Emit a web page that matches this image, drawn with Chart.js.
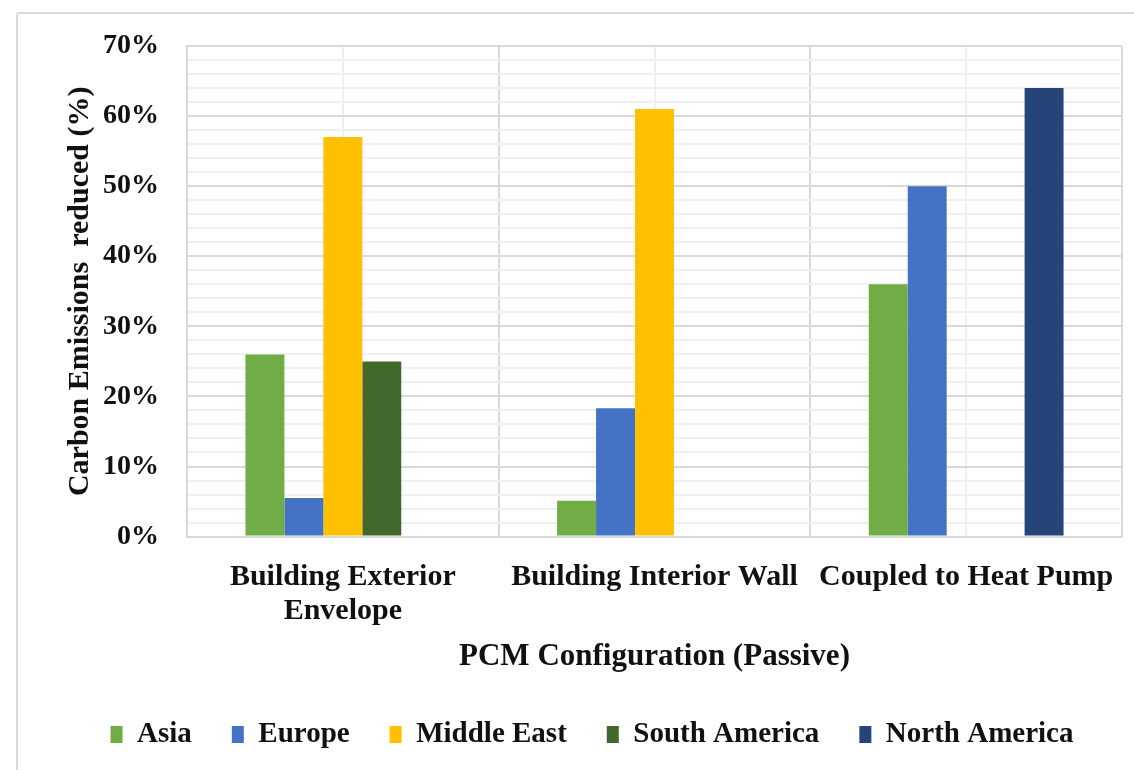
<!DOCTYPE html>
<html>
<head>
<meta charset="utf-8">
<script src="https://cdn.jsdelivr.net/npm/chart.js@4.4.0/dist/chart.umd.min.js"></script>
<style>
  body { margin: 0; background: #fff; }
  #wrap { position: relative; width: 1134px; height: 770px; overflow: hidden; }
  #frame { position: absolute; left: 16px; top: 12px; width: 1200px; height: 800px;
           border: 2px solid #d9d9d9; border-radius: 3px; box-sizing: border-box; }
  #chart { position: absolute; left: 0; top: 0; }
</style>
</head>
<body>
<div id="wrap">
  <div id="frame"></div>
  <canvas id="chart" width="1134" height="770"></canvas>
</div>
<script>
// PCM configurations on the x axis
const categories = [["Building Exterior", "Envelope"], "Building Interior Wall", "Coupled to Heat Pump"];

// carbon emissions reduced, in percent, per region
const asia = [26, 5.1, 36];
const europe = [5.5, 18.3, 50];
const middleEast = [57, 61, null];
const southAmerica = [25, null, null];
const northAmerica = [null, null, 64];

const regionNames = ["Asia", "Europe", "Middle East", "South America", "North America"];
const regionColors = ["#70ad47", "#4472c4", "#ffc000", "#43682b", "#264478"];

const yMin = 0, yMax = 70, yMinorStep = 2, yMajorStep = 10;

const majorGrid = "#d9d9d9";
const minorGrid = "#f0f0f0";

Chart.defaults.font.family = "'Liberation Serif', 'Times New Roman', serif";
Chart.defaults.font.weight = "bold";
Chart.defaults.color = "#111";

const seriesValues = [asia, europe, middleEast, southAmerica, northAmerica];
const datasets = seriesValues.map((vals, i) => ({
  label: regionNames[i],
  data: vals,
  backgroundColor: regionColors[i],
  borderWidth: 0,
  categoryPercentage: 0.625,
  barPercentage: 1,
}));

new Chart(document.getElementById("chart"), {
  type: "bar",
  data: { labels: categories, datasets: datasets },
  options: {
    responsive: false,
    animation: false,
    layout: { padding: { left: 62, right: 12, top: 46, bottom: 11 } },
    plugins: {
      tooltip: { enabled: false },
      legend: {
        position: "bottom",
        labels: {
          boxWidth: 12,
          boxHeight: 17,
          padding: 40,
          color: "#111",
          font: { size: 29, weight: "bold" },
        },
      },
    },
    scales: {
      x: {
        // invisible tick marks keep the labels clear of the axis line
        grid: { offset: true, color: majorGrid, lineWidth: 2, drawTicks: true, tickLength: 24, tickColor: "rgba(0,0,0,0)" },
        border: { color: majorGrid, width: 2 },
        ticks: {
          padding: 0,
          maxRotation: 0,
          autoSkip: false,
          color: "#111",
          font: { size: 30, weight: "bold", lineHeight: 1.12 },
        },
        title: {
          display: true,
          text: "PCM Configuration (Passive)",
          color: "#111",
          font: { size: 31, weight: "bold" },
          padding: { top: 11, bottom: 4 },
        },
      },
      // second category axis, only for the light lines through each group centre
      xc: {
        type: "category",
        position: "bottom",
        grid: { offset: false, color: minorGrid, lineWidth: 2, drawTicks: false },
        border: { display: false },
        ticks: { display: false },
      },
      y: {
        min: yMin,
        max: yMax,
        border: { color: majorGrid, width: 2 },
        grid: {
          drawTicks: false,
          lineWidth: 2,
          color: (ctx) => (ctx.tick && ctx.tick.value % yMajorStep === 0 ? majorGrid : minorGrid),
        },
        ticks: {
          stepSize: yMinorStep,
          autoSkip: false,
          padding: 28,
          color: "#111",
          font: { size: 28, weight: "bold" },
          callback: (v) => (v % yMajorStep === 0 ? v + "%" : ""),
        },
        title: {
          display: true,
          text: "Carbon Emissions  reduced (%)",
          color: "#111",
          font: { size: 30, weight: "bold" },
          padding: { top: 0, bottom: -23 },
        },
      },
    },
  },
});
</script>
</body>
</html>
